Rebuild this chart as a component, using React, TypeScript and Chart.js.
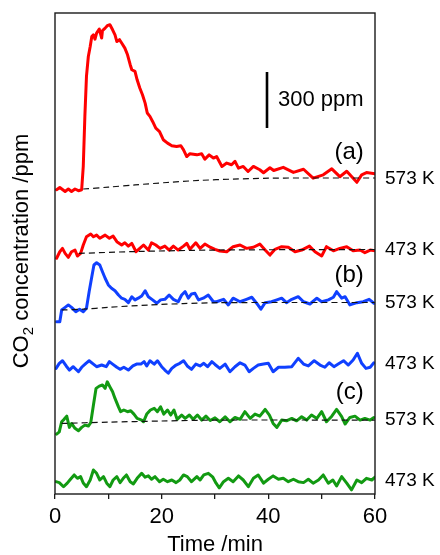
import React, { useEffect, useRef } from "react";
import { Chart, registerables } from "chart.js";
Chart.register(...registerables);

const FONT = "'Liberation Sans', Arial, Helvetica, sans-serif";

// x axis (Time /min)
const X_MIN = 0;
const X_MAX = 60;
const X_STEP = 10;
const X_LABEL_EVERY = 20;
// y axis (CO2 concentration /ppm, traces stacked with offsets)
const Y_MIN = 0;
const Y_MAX = 2577;

// vertical offsets (ppm) of each stacked trace
const OFFSET_A_573 = 1630;
const OFFSET_A_473 = 1291;
const OFFSET_B_573 = 986;
const OFFSET_B_473 = 691;
const OFFSET_C_573 = 380;
const OFFSET_C_473 = 70;

// (a) 573 K  [time min, ppm above baseline]
const a573: [number, number][] = [
  [0.3, 0], [0.9, 12], [1.9, -9], [2.5, 4], [3.1, -9], [3.75, 4], [4.4, -5], [5.0, 0],
  [5.3, 125], [5.6, 393], [5.9, 607], [6.25, 714], [6.6, 768], [6.9, 821], [7.2, 830], [7.5, 807],
  [7.8, 839], [8.3, 861], [8.75, 813], [8.9, 853], [9.4, 866], [9.8, 879], [10.3, 884], [10.8, 857],
  [11.25, 830], [11.6, 794], [12.1, 804], [12.5, 786], [13.1, 759], [13.6, 723], [14.1, 670], [14.4, 643],
  [15.0, 634], [15.4, 589], [15.9, 545], [16.4, 509], [16.9, 464], [17.3, 411], [17.8, 393], [18.3, 366],
  [18.9, 330], [19.6, 312], [20.3, 268], [21.1, 250], [21.9, 236], [22.8, 232], [23.6, 236], [24.1, 214],
  [24.7, 178], [25.3, 193], [26.6, 187], [27.5, 193], [28.1, 164], [28.9, 187], [29.7, 170], [30.3, 178],
  [31.3, 125], [32.2, 143], [33.1, 134], [33.75, 152], [34.4, 116], [35.3, 125], [36.2, 98], [37.2, 125],
  [38.4, 107], [39.1, 91], [40.3, 118], [41.0, 103], [42.8, 120], [44.7, 93], [46.6, 110], [48.4, 62],
  [50.3, 80], [51.9, 112], [53.4, 70], [54.7, 99], [56.6, 40], [57.5, 80], [58.4, 92], [60, 86],
];
const a573Base: [number, number][] = [
  [5.3, 4], [10, 14], [15, 26], [21, 39], [27, 50], [33.4, 57], [40, 62], [46, 63], [60, 63],
];

// (a) 473 K
const a473: [number, number][] = [
  [0.3, -28], [0.9, 7], [1.4, 25], [1.9, -2], [2.5, -23], [3.1, 7], [3.75, 16], [4.2, -16], [4.8, -2],
  [5.3, 43], [5.9, 87], [6.7, 102], [7.2, 87], [7.8, 96], [8.4, 79], [9.4, 96], [10.2, 79], [10.9, 91],
  [11.6, 61], [12.5, 43], [13.1, 55], [13.75, 37], [14.4, 52], [15.2, 7], [15.9, 25], [16.6, 43],
  [17.5, 16], [18.1, 55], [18.9, 43], [19.7, 25], [20.6, 37], [21.4, 16], [22.2, 37], [23.1, 16],
  [24.1, 37], [24.7, 52], [25.3, 20], [26.4, 55], [27.2, 25], [28.1, 48], [29.1, 31], [30.0, 20],
  [30.9, 11], [32.2, 7], [33.4, 34], [34.7, 43], [35.9, 25], [37.2, 31], [38.4, 48], [39.4, 16],
  [40.3, -11], [41.25, 20], [42.5, 34], [43.75, 31], [45, 7], [46.25, 16], [47.7, 37], [48.75, 7],
  [50, -16], [50.9, 34], [52.2, 12], [53.4, 25], [54.7, 34], [55.9, 12], [57.2, 16], [58.1, 2],
  [59.1, 16], [60, 12],
];
const a473Base: [number, number][] = [[4.5, -2], [15, 8], [30, 16], [45, 18], [60, 19]];

// (b) 573 K
const b573: [number, number][] = [
  [0.3, -63], [0.9, -63], [1.25, 0], [1.9, 14], [2.5, 27], [3.1, 14], [3.9, -9], [4.6, 4], [5.3, -9],
  [5.9, 9], [6.4, 98], [6.9, 178], [7.3, 241], [7.8, 253], [8.4, 241], [8.9, 205], [9.4, 170], [10, 134],
  [10.6, 116], [11.25, 103], [11.9, 80], [12.5, 63], [13.1, 57], [13.75, 39], [14.4, 71], [15, 54],
  [15.6, 63], [16.25, 75], [16.9, 103], [17.5, 71], [18.3, 54], [19.1, 36], [19.8, 54], [20.6, 57],
  [21.4, 80], [22.2, 57], [23.1, 44], [23.75, 80], [24.4, 98], [25, 63], [25.6, 86], [26.25, 89],
  [26.9, 54], [27.8, 63], [28.75, 80], [29.7, 44], [30.3, 44], [31.6, 57], [32.5, 27], [33.4, 63],
  [34.7, 44], [35.9, 57], [36.9, 68], [37.8, 36], [38.6, 4], [39.4, 39], [40.6, 44], [41.6, 54],
  [42.5, 63], [43.4, 39], [44.4, 57], [45.6, 71], [46.6, 44], [47.8, 32], [49.1, 63], [50, 44],
  [51.25, 54], [52.2, 68], [52.8, 98], [53.75, 63], [54.4, 71], [55.3, 27], [56.6, 39], [57.8, 44],
  [58.9, 57], [59.8, 36],
];
const b573Base: [number, number][] = [
  [1.25, 0], [5.3, 4], [10, 14], [17.8, 27], [24, 34], [30.6, 39], [45, 40], [60, 40],
];

// (b) 473 K
const b473: [number, number][] = [
  [0.2, -18], [0.8, 9], [1.4, 23], [2.1, -5], [2.7, -27], [3.4, -9], [4.4, -36], [5, -12], [5.8, 9],
  [6.4, 23], [7.2, 5], [7.8, -9], [8.75, 0], [9.6, -9], [10.2, 18], [10.8, 5], [11.6, -12], [12.2, -23],
  [12.9, -12], [13.75, -27], [14.6, -5], [15.3, 5], [16.1, 5], [16.7, 18], [17.2, -5], [17.8, 23],
  [18.6, 5], [19.2, 23], [20, -9], [20.6, -27], [21.25, -44], [21.9, -18], [22.7, 0], [23.4, 9],
  [24.1, 23], [24.8, -5], [25.6, -23], [26.4, 5], [27.2, -5], [27.9, 9], [28.6, -9], [29.4, 18],
  [30, 3], [30.9, -18], [31.9, 5], [32.8, -36], [33.75, -9], [34.7, 12], [35.6, 0], [36.4, -36],
  [37.2, -18], [38.1, 0], [39.1, 5], [40, 9], [40.9, -36], [41.9, -12], [43.1, -12], [44.4, -9],
  [45.6, 36], [46.6, 5], [47.5, -5], [48.6, 23], [49.7, 0], [50.6, -12], [51.4, 12], [52.3, -9],
  [53.1, 5], [54.1, 23], [55, 0], [55.9, 27], [56.7, 63], [57.5, 9], [58.3, -18], [59.1, -12], [59.8, 12],
];

// (c) 573 K
const c573: [number, number][] = [
  [0.3, -59], [0.8, -47], [1.25, 7], [1.7, 20], [2.2, 37], [2.7, -23], [3.1, -2], [3.75, -28],
  [4.4, -41], [5, -23], [5.6, -11], [6.25, -16], [6.7, 2], [7.2, 96], [7.7, 186], [8.3, 198],
  [8.9, 204], [9.4, 186], [9.8, 221], [10.3, 194], [10.8, 168], [11.25, 132], [11.9, 87], [12.3, 61],
  [12.9, 70], [13.6, 61], [14.2, 66], [14.8, 48], [15.4, 25], [16.25, 16], [16.6, 7], [17.2, 48],
  [17.9, 70], [18.6, 79], [19.2, 61], [19.8, 87], [20.4, 48], [21.1, 70], [21.7, 43], [22.3, 70],
  [22.9, 20], [23.75, 43], [24.4, 25], [25.2, 43], [25.9, 20], [26.7, 43], [27.5, 16], [28.3, 37],
  [29.1, 14], [30, 28], [30.9, 7], [31.9, 34], [32.8, 7], [33.75, 30], [34.7, 20], [35.6, 61],
  [36.6, 25], [37.5, 48], [38.4, 37], [39.4, 73], [40.2, 43], [40.9, -2], [41.6, -23], [42.5, 16],
  [43.4, 12], [44.4, 25], [45.3, 12], [46.25, 34], [47.2, 16], [48.1, 43], [49.1, 25], [50, 61],
  [50.9, 7], [51.9, 37], [52.8, 73], [53.75, 34], [54.4, -5], [55.3, 30], [56.25, 37], [57.2, 16],
  [58.1, 25], [59.1, 16], [59.8, 30],
];
const c573Base: [number, number][] = [[1.25, -2], [10, 5], [20, 11], [30, 16], [60, 16]];

// (c) 473 K
const c473: [number, number][] = [
  [0.2, -4], [0.8, -9], [1.6, -31], [2.3, -12], [2.9, 9], [3.6, 32], [4.2, 14], [4.8, 23], [5.3, -11],
  [5.9, -31], [6.6, 5], [7.2, 59], [7.8, 41], [8.4, 5], [9.1, 23], [9.7, -12], [10.3, -31], [10.9, 5],
  [11.6, 23], [12.2, -9], [12.8, 14], [13.4, 32], [14.1, -4], [14.7, -16], [15.4, 14], [16.25, 41],
  [16.9, 20], [17.5, 27], [18.1, 9], [18.75, 23], [19.6, -4], [20.3, 9], [21.1, -4], [21.9, 5],
  [22.7, -9], [23.4, 5], [24.1, 32], [24.8, 23], [25.6, -4], [26.6, 23], [27.2, 5], [27.9, 32],
  [28.75, 41], [29.6, 20], [30.2, -12], [30.8, -37], [31.6, -4], [32.5, 14], [33.4, -4], [34.4, 27],
  [35.3, 5], [36.25, -31], [37.2, 14], [38.1, 32], [39.1, -12], [40, 9], [40.9, 27], [41.9, 9],
  [42.8, 14], [43.75, -4], [44.7, 9], [45.6, -4], [46.6, -9], [47.5, 9], [48.4, -12], [49.4, 5],
  [50.3, 32], [51.25, -12], [52.1, 5], [52.8, -27], [53.75, 23], [54.7, -12], [55.6, -48], [56.6, 5],
  [57.5, -9], [58.4, 14], [59.4, 5], [60, 20],
];

// right-hand temperature labels and the ppm (above offset) where each sits
const tempLabels = ["573 K", "473 K", "573 K", "473 K", "573 K", "473 K"];
const tempLabelOffsets = [OFFSET_A_573, OFFSET_A_473, OFFSET_B_573, OFFSET_B_473, OFFSET_C_573, OFFSET_C_473];
const tempLabelRel = [60, 19, 40, 8, 16, 0];

// panel labels
const panelLabels = ["(a)", "(b)", "(c)"];
const panelLabelY = [1832, 1173, 546];
const PANEL_LABEL_X = 57.9;

// scale bar
const SCALE_BAR_PPM = 300;
const SCALE_BAR_X = 39.75;
const SCALE_BAR_TOP = 2261;
const SCALE_TEXT_X = 41.8;

const RED = "#ff0000";
const BLUE = "#1040ff";
const GREEN = "#129a12";

const toXY = (pairs: [number, number][], offset: number) =>
  pairs.map(([t, v]) => ({ x: t, y: v + offset }));

const dashed = (pairs: [number, number][], offset: number) => ({
  data: toXY(pairs, offset),
  borderColor: "#111",
  borderWidth: 1.2,
  borderDash: [6, 4],
  pointRadius: 0,
  tension: 0.3,
});

const trace = (pairs: [number, number][], offset: number, color: string) => ({
  data: toXY(pairs, offset),
  borderColor: color,
  borderWidth: 3,
  pointRadius: 0,
  tension: 0,
  borderJoinStyle: "round" as const,
  borderCapStyle: "round" as const,
});

const annotate = {
  id: "annotate",
  afterDraw(chart: any) {
    const { ctx, chartArea: a, scales } = chart;
    const xs = scales.x;
    const ys = scales.y;
    ctx.save();
    // frame
    ctx.strokeStyle = "#1a1a1a";
    ctx.lineWidth = 1.4;
    ctx.strokeRect(a.left, a.top, a.right - a.left, a.bottom - a.top);

    ctx.fillStyle = "#000";
    // temperature labels
    ctx.font = `19px ${FONT}`;
    ctx.textAlign = "left";
    ctx.textBaseline = "middle";
    tempLabels.forEach((lab, i) => {
      ctx.fillText(lab, a.right + 10, ys.getPixelForValue(tempLabelOffsets[i] + tempLabelRel[i]));
    });
    // panel labels
    ctx.font = `24px ${FONT}`;
    ctx.textAlign = "right";
    panelLabels.forEach((lab, i) => {
      ctx.fillText(lab, xs.getPixelForValue(PANEL_LABEL_X), ys.getPixelForValue(panelLabelY[i]));
    });
    // scale bar text
    ctx.font = `22px ${FONT}`;
    ctx.textAlign = "left";
    ctx.fillText(
      `${SCALE_BAR_PPM} ppm`,
      xs.getPixelForValue(SCALE_TEXT_X),
      ys.getPixelForValue(SCALE_BAR_TOP - SCALE_BAR_PPM / 2)
    );
    // x title
    ctx.textAlign = "center";
    ctx.fillText("Time /min", (a.left + a.right) / 2, 545);

    // y title with subscript
    const big = `22px ${FONT}`;
    const small = `15px ${FONT}`;
    ctx.font = big;
    const w1 = ctx.measureText("CO").width;
    const w3 = ctx.measureText(" concentration /ppm").width;
    ctx.font = small;
    const w2 = ctx.measureText("2").width;
    const total = w1 + w2 + w3;
    ctx.translate(20, 251);
    ctx.rotate(-Math.PI / 2);
    ctx.textAlign = "left";
    ctx.textBaseline = "alphabetic";
    let px = -total / 2;
    ctx.font = big;
    ctx.fillText("CO", px, 8);
    px += w1;
    ctx.font = small;
    ctx.fillText("2", px, 13);
    px += w2;
    ctx.font = big;
    ctx.fillText(" concentration /ppm", px, 8);
    ctx.restore();
  },
};

export default function App() {
  const ref = useRef<HTMLCanvasElement>(null);
  useEffect(() => {
    if (!ref.current) return;
    const chart = new Chart(ref.current, {
      type: "line",
      data: {
        datasets: [
          dashed(a573Base, OFFSET_A_573),
          dashed(a473Base, OFFSET_A_473),
          dashed(b573Base, OFFSET_B_573),
          dashed(c573Base, OFFSET_C_573),
          {
            data: [
              { x: SCALE_BAR_X, y: SCALE_BAR_TOP },
              { x: SCALE_BAR_X, y: SCALE_BAR_TOP - SCALE_BAR_PPM },
            ],
            borderColor: "#000",
            borderWidth: 2.6,
            pointRadius: 0,
          },
          trace(a573, OFFSET_A_573, RED),
          trace(a473, OFFSET_A_473, RED),
          trace(b573, OFFSET_B_573, BLUE),
          trace(b473, OFFSET_B_473, BLUE),
          trace(c573, OFFSET_C_573, GREEN),
          trace(c473, OFFSET_C_473, GREEN),
        ] as any,
      },
      options: {
        responsive: false,
        animation: false,
        devicePixelRatio: 1,
        layout: { padding: { top: 13, right: 65, left: 0, bottom: 0 } },
        plugins: { legend: { display: false }, tooltip: { enabled: false } },
        scales: {
          x: {
            type: "linear",
            min: X_MIN,
            max: X_MAX,
            afterFit: (s: any) => {
              s.height = 61;
            },
            border: { display: false },
            grid: {
              display: true,
              drawOnChartArea: false,
              drawTicks: true,
              tickLength: 5,
              color: "#1a1a1a",
              lineWidth: 1.3,
            },
            ticks: {
              stepSize: X_STEP,
              autoSkip: false,
              maxRotation: 0,
              padding: 5,
              color: "#000",
              font: { family: FONT, size: 22 },
              callback: (v: any) => (Number(v) % X_LABEL_EVERY === 0 ? String(v) : ""),
            },
          },
          y: {
            type: "linear",
            min: Y_MIN,
            max: Y_MAX,
            afterFit: (s: any) => {
              s.width = 55;
            },
            border: { display: false },
            grid: { display: false },
            ticks: { display: false },
          },
        },
      },
      plugins: [annotate],
    });
    return () => chart.destroy();
  }, []);
  return (
    <div style={{ position: "absolute", left: 0, top: 0, width: 440, height: 555 }}>
      <canvas ref={ref} width={440} height={555} style={{ width: 440, height: 555, display: "block" }} />
    </div>
  );
}
